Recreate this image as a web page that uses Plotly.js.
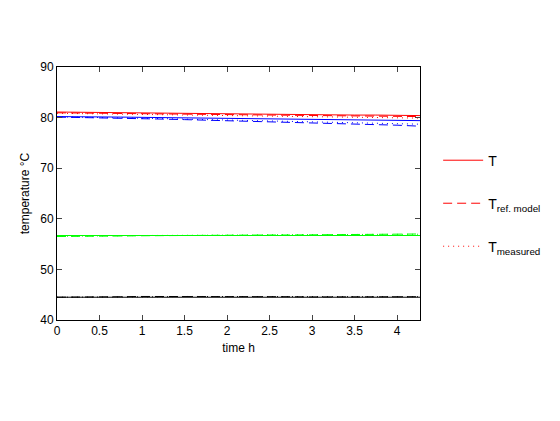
<!DOCTYPE html>
<html>
<head>
<meta charset="utf-8">
<script src="https://cdn.plot.ly/plotly-3.0.1.min.js"></script>
<style>body{margin:0;padding:0;background:#fff;}#chart{width:560px;height:421px;}</style>
</head>
<body>
<div id="chart"></div>
<script>
var timeH = [0,0.25,0.5,0.75,1,1.25,1.5,1.75,2,2.25,2.5,2.75,3,3.25,3.5,3.75,4,4.27];

var redT    = [81.1,81.05,81.0,81.0,80.95,80.9,80.85,80.8,80.75,80.7,80.7,80.65,80.6,80.55,80.5,80.5,80.45,80.4];
var redRef  = [80.95,80.9,80.85,80.8,80.8,80.75,80.7,80.65,80.6,80.55,80.5,80.5,80.45,80.4,80.3,80.3,80.25,80.2];
var redMeas = [80.85,80.8,80.75,80.7,80.65,80.6,80.55,80.45,80.4,80.35,80.3,80.25,80.2,80.15,80.05,80.0,79.95,79.9];

var blueT    = [80.2,80.2,80.15,80.1,80.05,80.0,79.95,79.9,79.85,79.8,79.75,79.7,79.65,79.6,79.55,79.5,79.45,79.4];
var blueRef  = [80.1,80.05,80.0,79.9,79.8,79.7,79.6,79.5,79.4,79.3,79.2,79.1,79.0,78.9,78.8,78.65,78.5,78.3];
var blueMeas = [80.15,80.1,80.05,79.95,79.85,79.8,79.7,79.6,79.5,79.4,79.35,79.25,79.15,79.05,78.95,78.85,78.8,78.7];

var greenT    = [56.7,56.7,56.7,56.7,56.7,56.7,56.7,56.7,56.7,56.7,56.7,56.7,56.7,56.7,56.7,56.7,56.7,56.7];
var greenRef  = [56.5,56.5,56.55,56.6,56.65,56.7,56.7,56.75,56.75,56.8,56.8,56.8,56.85,56.85,56.9,56.9,56.95,57.0];
var greenMeas = [56.55,56.55,56.6,56.65,56.7,56.7,56.75,56.75,56.8,56.8,56.85,56.85,56.85,56.9,56.9,56.95,56.95,56.95];

var blackT    = [44.5,44.5,44.5,44.5,44.5,44.5,44.5,44.5,44.5,44.5,44.5,44.5,44.5,44.5,44.5,44.5,44.5,44.5];
var blackRef  = [44.5,44.5,44.55,44.6,44.65,44.65,44.7,44.7,44.65,44.6,44.6,44.6,44.55,44.55,44.55,44.6,44.6,44.6];
var blackMeas = [44.5,44.5,44.5,44.55,44.6,44.6,44.65,44.65,44.6,44.6,44.55,44.55,44.55,44.55,44.55,44.6,44.6,44.6];

var xTicks = [0,0.5,1,1.5,2,2.5,3,3.5,4];
var xTickLabels = ["0","0.5","1","1.5","2","2.5","3","3.5","4"];
var yTicks = [40,50,60,70,80,90];
var legendNames = ["T","T<sub>ref. model</sub>","T<sub>measured</sub>"];

var DASH = '9px,5px';
var DOT = '1px,4px';

function tr(y, color, dash, name, legend){
  var t = {x: timeH, y: y, type: 'scatter', mode: 'lines',
    line: {color: color, width: 1, dash: dash}, hoverinfo: 'skip'};
  if (legend) { t.name = name; t.showlegend = true; t.legend = legend; }
  else { t.showlegend = false; }
  return t;
}

var data = [
  tr(blackT, '#000000', 'solid'), tr(blackRef, '#000000', DASH), tr(blackMeas, '#000000', DOT),
  tr(greenT, '#00ff00', 'solid'), tr(greenRef, '#00ff00', DASH), tr(greenMeas, '#00ff00', DOT),
  tr(blueT, '#0000ff', 'solid'), tr(blueRef, '#0000ff', DASH), tr(blueMeas, '#0000ff', DOT),
  tr(redMeas, '#ff0000', DOT, legendNames[2], 'legend3'),
  tr(redRef, '#ff0000', DASH, legendNames[1], 'legend2'),
  tr(redT, '#ff0000', 'solid', legendNames[0], 'legend')
];

var fontFam = 'Liberation Sans, Arial, Helvetica, sans-serif';
function leg(yp){
  return {x: 1.05, y: yp, xanchor: 'left', yanchor: 'middle', xref: 'paper', yref: 'paper',
    itemwidth: 40, bgcolor: 'rgba(0,0,0,0)', borderwidth: 0,
    font: {family: fontFam, size: 14, color: '#000'}};
}

var layout = {
  width: 560, height: 421,
  margin: {l: 57, r: 140, t: 67, b: 101, pad: 0},
  paper_bgcolor: '#fff', plot_bgcolor: '#fff',
  font: {family: fontFam, size: 12, color: '#000'},
  xaxis: {range: [0, 4.27], tickvals: xTicks, ticktext: xTickLabels, ticks: 'inside', ticklen: 5,
    showline: true, linecolor: '#000', linewidth: 1, mirror: 'ticks', showgrid: false, zeroline: false,
    tickfont: {size: 12}, title: {text: 'time h', font: {size: 12}, standoff: 6}},
  yaxis: {range: [40, 90], tickvals: yTicks, ticks: 'inside', ticklen: 5,
    showline: true, linecolor: '#000', linewidth: 1, mirror: 'ticks', showgrid: false, zeroline: false,
    tickfont: {size: 12}, title: {text: 'temperature °C', font: {size: 12}, standoff: 8}},
  legend: leg(0.63),
  legend2: leg(0.46),
  legend3: leg(0.29),
  showlegend: true
};

Plotly.newPlot('chart', data, layout, {displayModeBar: false, staticPlot: true});
</script>
</body>
</html>
